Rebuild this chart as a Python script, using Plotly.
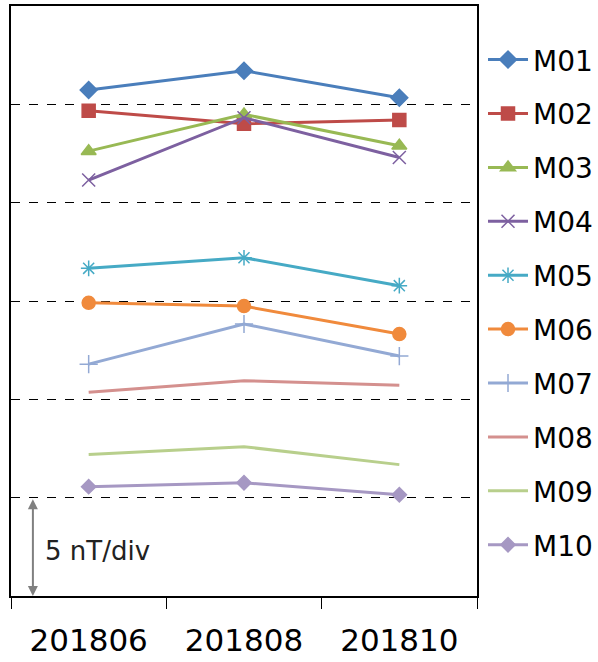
import plotly.graph_objects as go

categories = ["201806", "201808", "201810"]

M01 = [25.73, 26.71, 25.33]
M02 = [24.67, 24.01, 24.20]
M03 = [22.62, 24.49, 22.89]
M04 = [21.15, 24.32, 22.30]
M05 = [16.66, 17.20, 15.78]
M06 = [14.91, 14.74, 13.32]
M07 = [11.79, 13.83, 12.20]
M08 = [10.36, 10.95, 10.71]
M09 = [7.20, 7.59, 6.68]
M10 = [5.56, 5.76, 5.15]

series_names = ["M01", "M02", "M03", "M04", "M05", "M06", "M07", "M08", "M09", "M10"]
series_values = [M01, M02, M03, M04, M05, M06, M07, M08, M09, M10]
colors = ["#4A7EBB", "#BE4B48", "#98B954", "#7D60A0", "#46AAC5",
          "#F08A3C", "#93A9D4", "#D4908E", "#B8CF8C", "#A698C3"]
symbols = ["diamond", "square", "triangle-up", "x-thin-open", "asterisk-open",
           "circle", "cross-thin-open", None, None, "diamond"]
sizes = [13, 13, 13, 13, 13, 13, 13, 0, 0, 11]

grid_vals = [5, 10, 15, 20, 25]
FONT = "DejaVu Sans"

fig = go.Figure()
for i, (name, vals) in enumerate(zip(series_names, series_values)):
    sym = symbols[i]
    mode = "lines+markers" if sym else "lines"
    marker = dict(color=colors[i], size=sizes[i], symbol=sym,
                  line=dict(color=colors[i], width=1.5)) if sym else None
    fig.add_trace(go.Scatter(
        x=categories, y=vals, name=name, mode=mode,
        line=dict(color=colors[i], width=3),
        marker=marker, legendgroup=name,
    ))

fig.update_layout(
    width=598, height=662,
    margin=dict(l=11, r=121, t=6, b=66, autoexpand=False),
    paper_bgcolor="white", plot_bgcolor="white",
    font=dict(family=FONT, color="black"),
    showlegend=True,
    legend=dict(
        xref="container", x=0.8077, xanchor="left",
        y=0.951, yanchor="top",
        font=dict(size=28, family=FONT, color="black"),
        tracegroupgap=14.5, bgcolor="rgba(0,0,0,0)",
        itemwidth=40,
    ),
    xaxis=dict(
        type="category", range=[-0.5, 2.5],
        showline=True, linecolor="black", linewidth=2, mirror=True,
        ticks="outside", ticklen=11, tickcolor="black", tickwidth=1,
        tickson="boundaries", ticklabelstandoff=16,
        showgrid=False, zeroline=False,
        tickfont=dict(size=31, family=FONT, color="black"),
    ),
    yaxis=dict(
        range=[0, 30],
        showline=True, linecolor="black", linewidth=2, mirror=True,
        tickvals=grid_vals, showticklabels=False, ticks="",
        showgrid=True, gridcolor="black", gridwidth=1, griddash="dash",
        zeroline=False,
    ),
)

fig.add_annotation(
    xref="paper", x=0.047, yref="y", y=0,
    axref="pixel", ax=0, ayref="y", ay=5,
    showarrow=True, arrowside="end+start", arrowhead=2, arrowsize=1,
    arrowwidth=2, arrowcolor="#808080", text="",
)
fig.add_annotation(
    xref="paper", x=0.068, xanchor="left", yref="y", y=2.3, yanchor="middle",
    text="5 nT/div", showarrow=False,
    font=dict(size=26, family=FONT, color="#222222"),
)

fig.write_html("out.html", config={"displayModeBar": False},
               post_script="document.body.style.margin='0';")
